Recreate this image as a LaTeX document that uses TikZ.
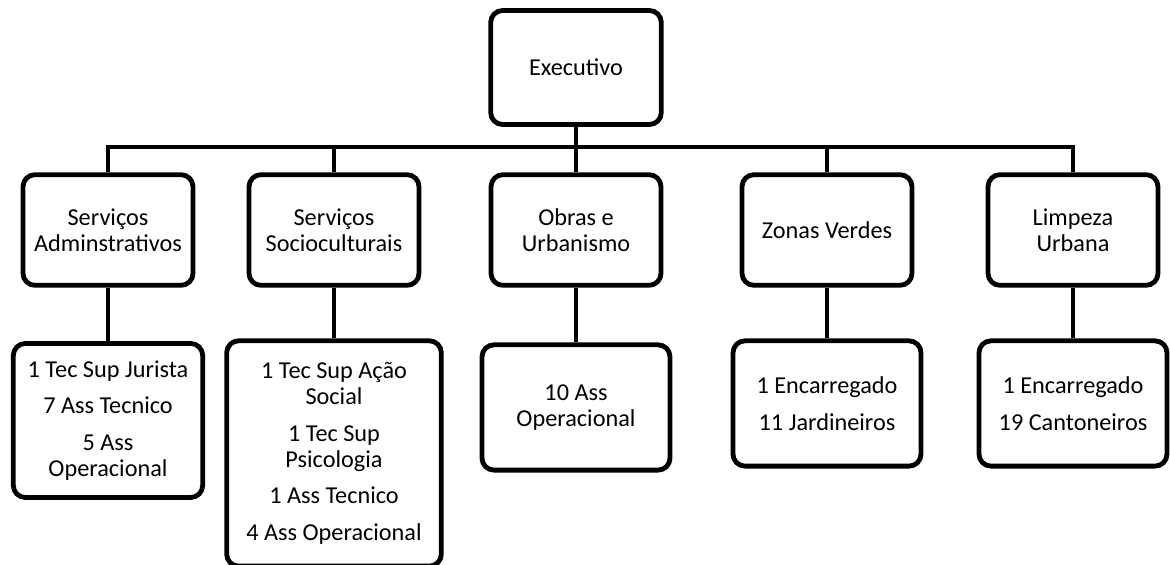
\documentclass[tikz,border=0pt]{standalone}
\usepackage{fontspec}
\setmainfont{Carlito}
\usepackage{tikz}
\usetikzlibrary{positioning}

\begin{document}
\begin{tikzpicture}[
  x=0.75pt, y=-0.75pt,
  box/.style={rectangle, rounded corners=9pt, draw=black, line width=3.6pt,
    fill=white, align=center, font=\fontsize{18.2}{19.5}\selectfont},
  unit/.style={box, minimum width=127.5pt, minimum height=83pt},
  staff/.style={box, minimum width=141pt, minimum height=94pt},
  link/.style={line width=3.4pt, black}
]
  \useasboundingbox (0,0) rectangle (1170,564);

  \node[box, minimum width=128pt, minimum height=85.5pt] (exec) at (576,67.5) {Executivo};

  \node[unit] (adm)   at (108,230)  {Serviços\\Adminstrativos};
  \node[unit] (socio) at (334,230)  {Serviços\\Socioculturais};
  \node[unit] (obras) at (576,230)  {Obras e\\Urbanismo};
  \node[unit] (zonas) at (827,230)  {Zonas Verdes};
  \node[unit] (limp)  at (1073,230) {Limpeza\\Urbana};

  \node[staff, below=40pt of adm, minimum width=142pt, minimum height=115.5pt] (admstaff)
    {1 Tec Sup Jurista\\[8pt]7 Ass Tecnico\\[8pt]5 Ass\\Operacional};
  \node[staff, below=38pt of socio, minimum width=161pt, minimum height=169pt] (sociostaff)
    {1 Tec Sup Ação\\Social\\[8pt]1 Tec Sup\\Psicologia\\[8pt]1 Ass Tecnico\\[8pt]4 Ass Operacional};
  \node[staff, below=41pt of obras] (obrasstaff) {10 Ass\\Operacional};
  \node[staff, below=38pt of zonas] (zonasstaff) {1 Encarregado\\[8pt]11 Jardineiros};
  \node[staff, below=38pt of limp]  (limpstaff)  {1 Encarregado\\[8pt]19 Cantoneiros};

  \coordinate (bus) at (576,147);
  \draw[link] (exec.south) -- (bus);
  \foreach \u in {adm,socio,obras,zonas,limp} {
    \draw[link] (\u.north) |- (bus);
    \draw[link] (\u.south) -- (\u staff.north);
  }
\end{tikzpicture}
\end{document}
